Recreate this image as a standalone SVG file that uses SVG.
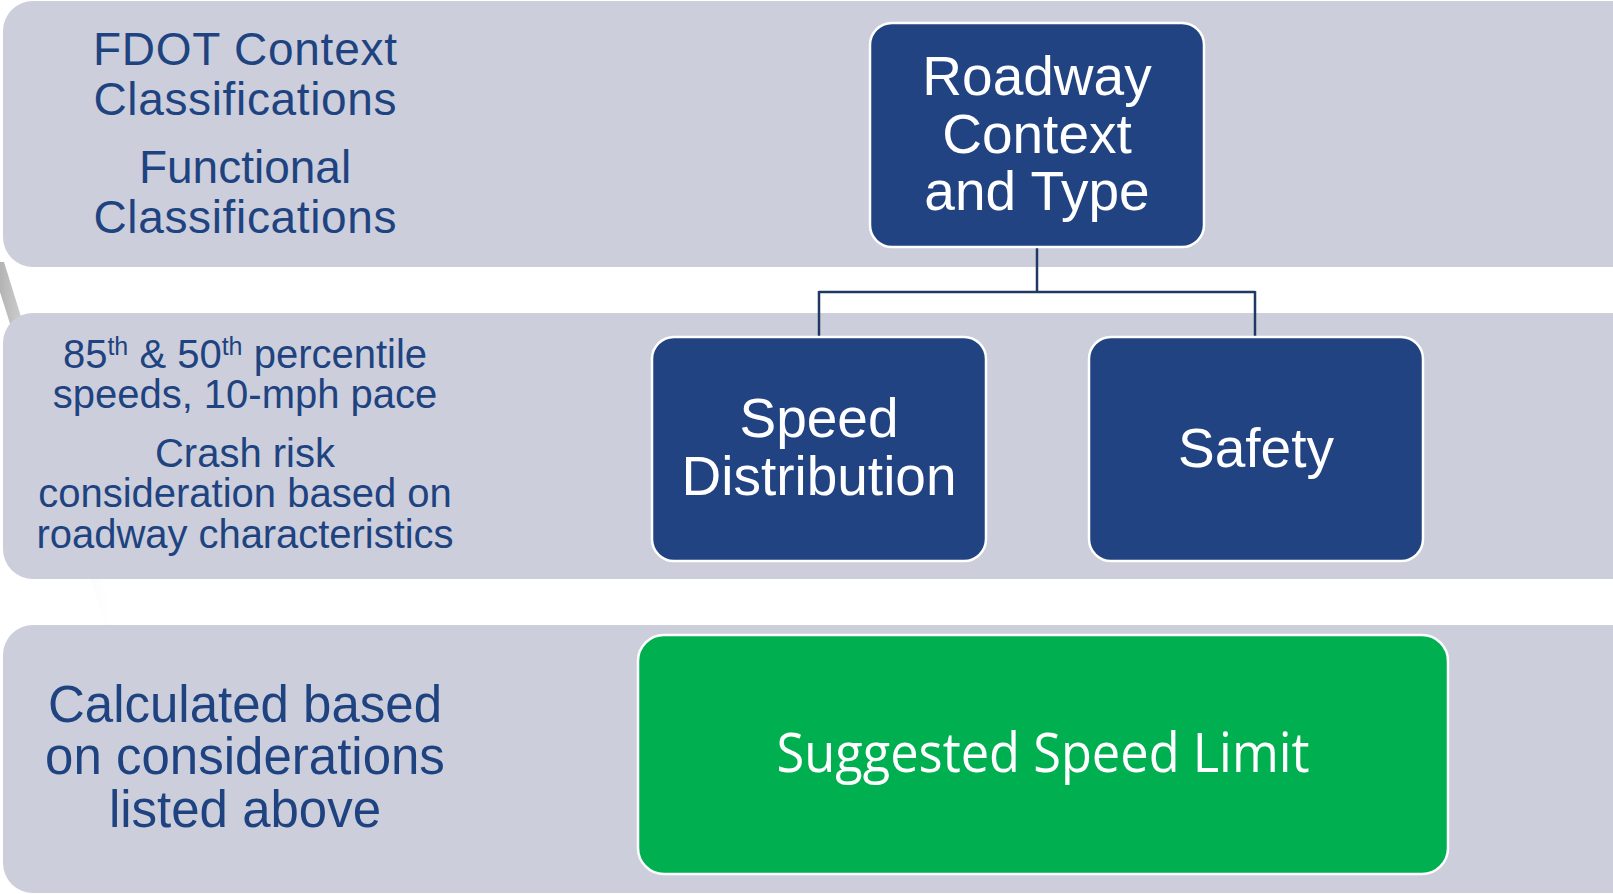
<svg xmlns="http://www.w3.org/2000/svg" width="1613" height="894" viewBox="0 0 1613 894">
  <defs>
    <linearGradient id="shadow" x1="0" y1="0" x2="1" y2="0">
      <stop offset="0" stop-color="#9a9a9a" stop-opacity="0.75"/>
      <stop offset="1" stop-color="#ffffff" stop-opacity="0"/>
    </linearGradient>
    <style>
      .band { fill: #CCCFDB; }
      .btext { font-family: "Liberation Sans", Arial, sans-serif; fill: #1F4381; text-anchor: middle; }
      .node { fill: #214382; stroke: #ffffff; stroke-width: 2.5; }
      .green { fill: #00AF50; stroke: #ffffff; stroke-width: 2.5; }
      .ntext { font-family: "Liberation Sans", Arial, sans-serif; fill: #ffffff; text-anchor: middle; font-size: 55px; }
      .gtext { font-family: "Open Sans", "Noto Sans", sans-serif; fill: #ffffff; text-anchor: middle; font-size: 54px; }
      .conn { fill: none; stroke: #1F3864; stroke-width: 2.5; }
    </style>
  </defs>
  <rect width="1613" height="894" fill="#ffffff"/>
  <!-- background paper edge shadow -->
  <polygon points="0,262 4,262 118,628 106,628 0,292" fill="url(#shadow)"/>

  <g id="band-context">
    <rect class="band" x="3" y="1" width="1640" height="266" rx="30"/>
    <text class="btext" font-size="46" x="245" y="65" textLength="304">FDOT Context</text>
    <text class="btext" font-size="46" x="245" y="115" textLength="303">Classifications</text>
    <text class="btext" font-size="46" x="245" y="183">Functional</text>
    <text class="btext" font-size="46" x="245" y="233" textLength="303">Classifications</text>
  </g>
  <g id="band-speed">
    <rect class="band" x="3" y="313" width="1640" height="266" rx="30"/>
    <text class="btext" font-size="40" x="245" y="368">85<tspan font-size="25" dy="-13">th</tspan><tspan dy="13"> &amp; 50</tspan><tspan font-size="25" dy="-13">th</tspan><tspan dy="13"> percentile</tspan></text>
    <text class="btext" font-size="40" x="245" y="408">speeds, 10-mph pace</text>
    <text class="btext" font-size="40" x="245" y="467">Crash risk</text>
    <text class="btext" font-size="40" x="245" y="507">consideration based on</text>
    <text class="btext" font-size="40" x="245" y="548" textLength="417">roadway characteristics</text>
  </g>
  <g id="band-limit">
    <rect class="band" x="3" y="625" width="1640" height="268" rx="30"/>
    <text class="btext" font-size="51" x="245" y="722">Calculated based</text>
    <text class="btext" font-size="51" x="245" y="774">on considerations</text>
    <text class="btext" font-size="51" x="245" y="827">listed above</text>
  </g>

  <g id="connectors">
    <path class="conn" d="M1037,247 V292 M819,292 H1255 M819,291 V337 M1255,291 V337"/>
  </g>

  <g id="node-roadway">
    <rect class="node" x="870" y="23" width="334" height="224" rx="22"/>
    <text class="ntext" x="1037" y="95">Roadway</text>
    <text class="ntext" x="1037" y="153">Context</text>
    <text class="ntext" x="1037" y="210">and Type</text>
  </g>
  <g id="node-speed">
    <rect class="node" x="652" y="337" width="334" height="224" rx="22"/>
    <text class="ntext" x="819" y="437">Speed</text>
    <text class="ntext" x="819" y="495">Distribution</text>
  </g>
  <g id="node-safety">
    <rect class="node" x="1089" y="337" width="334" height="224" rx="22"/>
    <text class="ntext" x="1256" y="467">Safety</text>
  </g>
  <g id="node-limit">
    <rect class="green" x="638" y="635" width="810" height="239" rx="26"/>
    <text class="gtext" x="1043" y="772" textLength="533" lengthAdjust="spacingAndGlyphs">Suggested Speed Limit</text>
  </g>
</svg>
